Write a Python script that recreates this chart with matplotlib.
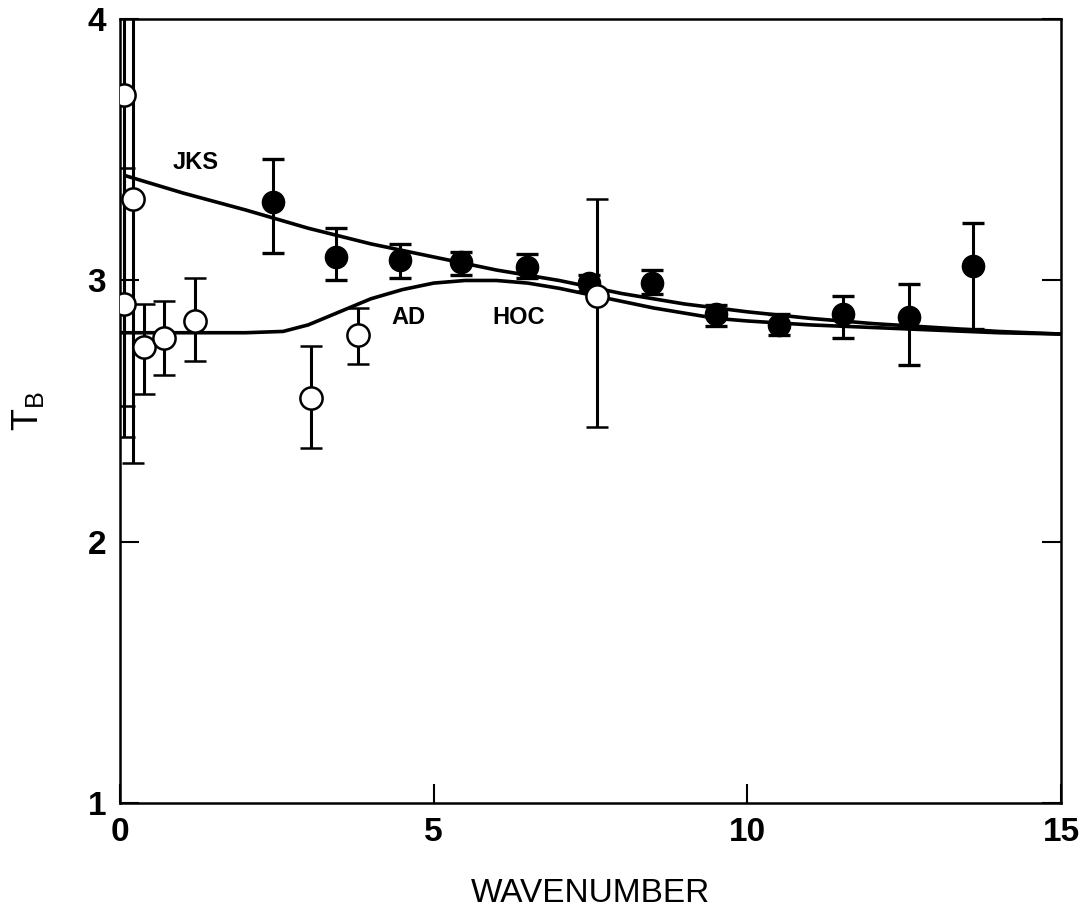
import matplotlib
matplotlib.use("Agg")
import matplotlib.pyplot as plt
import numpy as np

plt.rcParams['font.family'] = ['Liberation Sans', 'DejaVu Sans']

# open circles (with error bars)
open_x = [0.07, 0.20, 0.07, 0.38, 0.70, 1.20, 3.05, 3.80, 7.60]
open_y = [3.71, 3.31, 2.91, 2.745, 2.78, 2.845, 2.55, 2.79, 2.94]
open_lo = [2.40, 2.30, 2.52, 2.565, 2.64, 2.69, 2.36, 2.68, 2.44]
open_hi = [4.60, 4.60, 3.43, 2.91, 2.92, 3.01, 2.75, 2.895, 3.31]

# filled circles (with error bars)
fill_x = [2.44, 3.45, 4.47, 5.44, 6.48, 7.48, 8.48, 9.50, 10.50, 11.53, 12.57, 13.60]
fill_y = [3.30, 3.09, 3.08, 3.07, 3.05, 2.99, 2.99, 2.87, 2.83, 2.87, 2.86, 3.055]
fill_lo = [3.105, 3.00, 3.01, 3.02, 3.01, 2.96, 2.95, 2.825, 2.79, 2.78, 2.675, 2.815]
fill_hi = [3.465, 3.20, 3.14, 3.11, 3.10, 3.02, 3.04, 2.905, 2.87, 2.94, 2.985, 3.22]

# model curves
jks_x = [0.1, 1, 2, 3, 4, 5, 6, 7, 8, 9, 10, 11, 12, 13, 14, 15]
jks_y = [3.40, 3.335, 3.27, 3.20, 3.14, 3.09, 3.04, 3.00, 2.95, 2.91, 2.88, 2.855, 2.835, 2.82, 2.805, 2.795]

hoc_x = [0.0, 1, 2, 2.6, 3.0, 3.5, 4.0, 4.5, 5.0, 5.5, 6.0, 6.5, 7.0, 7.5, 8.0, 8.5, 9.0, 9.5, 10, 11, 12, 13, 14, 15]
hoc_y = [2.80, 2.80, 2.80, 2.805, 2.83, 2.88, 2.93, 2.965, 2.99, 3.0, 3.0, 2.99, 2.97, 2.945, 2.92, 2.895, 2.875, 2.855, 2.845, 2.83, 2.82, 2.81, 2.80, 2.795]

fig = plt.figure(figsize=(10.92, 9.14), dpi=100)
ax = fig.add_axes([0.1099, 0.1214, 0.8617, 0.8576])

ax.plot(jks_x, jks_y, color='black', lw=2.6, zorder=2)
ax.plot(hoc_x, hoc_y, color='black', lw=2.6, zorder=2)

ax.errorbar(fill_x, fill_y,
            yerr=[np.array(fill_y) - np.array(fill_lo), np.array(fill_hi) - np.array(fill_y)],
            fmt='o', color='black', ms=16, mfc='black', mec='black',
            elinewidth=2.2, capsize=8, capthick=2.4, zorder=3)
ax.errorbar(open_x, open_y,
            yerr=[np.array(open_y) - np.array(open_lo), np.array(open_hi) - np.array(open_y)],
            fmt='o', color='black', ms=16, mfc='white', mec='black', mew=1.8,
            elinewidth=2.2, capsize=8, capthick=2.4, zorder=4)

ax.text(1.2, 3.45, 'JKS', fontsize=17, fontweight='bold', ha='center', va='center')
ax.text(4.6, 2.86, 'AD', fontsize=17, fontweight='bold', ha='center', va='center')
ax.text(6.35, 2.86, 'HOC', fontsize=17, fontweight='bold', ha='center', va='center')

ax.set_xlim(0, 15)
ax.set_ylim(1, 4)
ax.set_xticks([0, 5, 10, 15])
ax.set_yticks([1, 2, 3, 4])
ax.tick_params(direction='in', length=14, width=1.5, labelsize=24, pad=10,
               right=True, top=False)
for lab in ax.get_xticklabels() + ax.get_yticklabels():
    lab.set_fontweight('bold')
for s in ax.spines.values():
    s.set_linewidth(1.8)

ax.set_xlabel('WAVENUMBER', fontsize=24, labelpad=22)
ax.set_ylabel(r'T$_\mathregular{B}$', fontsize=26, labelpad=30)

plt.savefig('out.png', dpi=100)
